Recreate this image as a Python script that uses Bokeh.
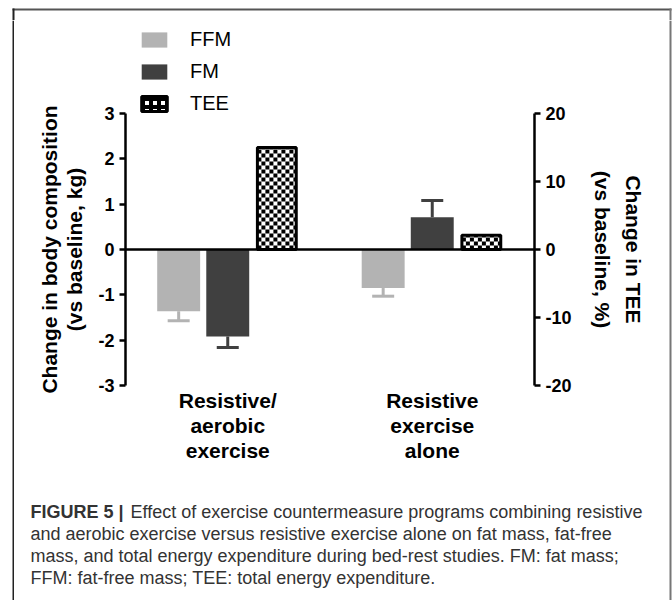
import math
from bokeh.plotting import figure
from bokeh.models import (ColumnDataSource, FactorRange, Range1d, LinearAxis, FixedTicker,
                          Span, Whisker, TeeHead, Legend, LegendItem, Label)
from bokeh.core.properties import value
from bokeh.transform import dodge
from bokeh.layouts import column, row
from bokeh.embed import file_html
from bokeh.resources import INLINE

# ---------------- data ----------------
groups = ["Resistive/\naerobic\nexercise", "Resistive\nexercise\nalone"]
series = ["FFM", "FM", "TEE"]
ffm = [-1.36, -0.85]          # kg
ffm_sem = [0.21, 0.18]
fm = [-1.92, 0.71]            # kg
fm_sem = [0.24, 0.37]
tee = [15.0, 2.1]             # %
left_ticks = [-3, -2, -1, 0, 1, 2, 3]
right_ticks = [-20, -10, 0, 10, 20]
caption_bold = "FIGURE 5 |"
caption_lines = [
    "Effect of exercise countermeasure programs combining resistive",
    "and aerobic exercise versus resistive exercise alone on fat mass, fat-free",
    "mass, and total energy expenditure during bed-rest studies. FM: fat mass;",
    "FFM: fat-free mass; TEE: total energy expenditure.",
]

FONT = "Liberation Sans"
C_FFM = "#b3b3b3"
C_FM = "#404040"
OFF = [-0.24, 0.0, 0.24]      # dodge of the three series inside a group
BAR_W, TEE_W = 0.21, 0.19

# ---------------- layout geometry (pixels) ----------------
TOP_H = 20
SIDE_L, SIDE_R = 14, 4
W_MAIN = 672 - SIDE_L - SIDE_R
FR_LEFT, FR_RIGHT = 125, 534
AX_TOP, ZERO = 113, 249
H_A = 2 * (ZERO - TOP_H)
H_B = 600 - TOP_H - H_A
ext = (ZERO - TOP_H) / (ZERO - AX_TOP)
L_LIM, R_LIM = max(left_ticks), max(right_ticks)


def no_align(f):
    try:
        f.frame_align = False
    except Exception:
        pass


def blank(width, height):
    f = figure(width=width, height=height, x_range=Range1d(0, width), y_range=Range1d(height, 0),
               x_axis_type=None, y_axis_type=None, output_backend="svg", toolbar_location=None,
               min_border=0, min_border_left=0, min_border_right=0,
               min_border_top=0, min_border_bottom=0)
    f.outline_line_color = None
    f.background_fill_color = "white"
    f.border_fill_color = "white"
    no_align(f)
    return f


# ---------------- chart figure ----------------
p = figure(width=W_MAIN, height=H_A,
           x_range=FactorRange(factors=groups, range_padding=0),
           y_range=Range1d(-L_LIM * ext, L_LIM * ext),
           output_backend="svg", toolbar_location=None,
           min_border_left=FR_LEFT - SIDE_L, min_border_right=SIDE_L + W_MAIN - FR_RIGHT,
           min_border_top=0, min_border_bottom=0)
no_align(p)
p.extra_y_ranges = {"tee": Range1d(-R_LIM * ext, R_LIM * ext)}
p.outline_line_color = None
p.xgrid.grid_line_color = None
p.ygrid.grid_line_color = None
p.background_fill_color = "white"
p.border_fill_color = "white"
p.xaxis.visible = False

la = p.left[0]
la.ticker = FixedTicker(ticks=left_ticks)
la.bounds = (min(left_ticks), max(left_ticks))
la.major_label_overrides = {t: str(t) for t in left_ticks}
la.axis_label = "Change in body composition\n(vs baseline, kg)"

ra = LinearAxis(y_range_name="tee", ticker=FixedTicker(ticks=right_ticks),
                bounds=(min(right_ticks), max(right_ticks)),
                axis_label="Change in TEE\n(vs baseline, %)")
ra.major_label_overrides = {t: str(t) for t in right_ticks}
p.add_layout(ra, "right")

for ax, standoff, lh in ((la, 9, 1.1), (ra, 16, 1.35)):
    ax.axis_line_width = 2.5
    ax.axis_line_color = "black"
    ax.major_tick_line_width = 2.5
    ax.major_tick_line_color = "black"
    ax.major_tick_out = 6
    ax.major_tick_in = 0
    ax.minor_tick_line_color = None
    ax.major_label_text_font = FONT
    ax.major_label_text_font_style = "bold"
    ax.major_label_text_font_size = "18px"
    ax.major_label_text_color = "black"
    ax.major_label_standoff = 5
    ax.axis_label_text_font = FONT
    ax.axis_label_text_font_style = "bold"
    ax.axis_label_text_font_size = "21px"
    ax.axis_label_text_line_height = lh
    ax.axis_label_text_color = "black"
    ax.axis_label_standoff = standoff

src = ColumnDataSource(dict(grp=groups, ffm=ffm, fm=fm, tee=tee,
                            lab_y=[min(left_ticks)] * len(groups)))
r_ffm = p.vbar(x=dodge("grp", OFF[0], range=p.x_range), top="ffm", bottom=0, width=BAR_W,
               source=src, fill_color=C_FFM, line_color=None)
r_fm = p.vbar(x=dodge("grp", OFF[1], range=p.x_range), top="fm", bottom=0, width=BAR_W,
              source=src, fill_color=C_FM, line_color=None)

# legend swatch for TEE: zero-height bars (hidden on the zero line) carrying the box style
r_tee_box = p.vbar(x=dodge("grp", OFF[2], range=p.x_range), top=0, bottom=0, width=TEE_W,
                   source=src, y_range_name="tee", fill_color="white",
                   line_color="black", line_width=3)
r_tee_hatch = p.vbar(x=dodge("grp", OFF[2], range=p.x_range), top=0, bottom=0, width=TEE_W,
                     source=src, y_range_name="tee", fill_color=None, line_color=None,
                     hatch_pattern="cross", hatch_color="black", hatch_scale=8,
                     hatch_weight=4)

p.vbar(x=dodge("grp", OFF[2], range=p.x_range), top="tee", bottom=0, width=TEE_W,
       source=src, y_range_name="tee", fill_color="white", line_color=None)

# checkerboard fill of the TEE bars (4 px cells, derived from the bar values)
cell = 4.0
cx = cell / ((FR_RIGHT - FR_LEFT) / len(groups))
cy = cell / ((ZERO - AX_TOP) / R_LIM)
ql, qr, qb, qt = [], [], [], []
for i, v in enumerate(tee):
    x0 = i + 0.5 + OFF[2] - TEE_W / 2
    x1 = x0 + TEE_W
    for j in range(math.ceil(TEE_W / cx)):
        for k in range(math.ceil(abs(v) / cy)):
            if (j + k) % 2 == 0:
                ql.append(x0 + j * cx)
                qr.append(min(x0 + (j + 1) * cx, x1))
                y0 = math.copysign(k * cy, v)
                y1 = math.copysign(min((k + 1) * cy, abs(v)), v)
                qb.append(min(y0, y1))
                qt.append(max(y0, y1))
p.quad(left=ql, right=qr, bottom=qb, top=qt, y_range_name="tee",
       fill_color="black", line_color=None)
p.vbar(x=dodge("grp", OFF[2], range=p.x_range), top="tee", bottom=0, width=TEE_W,
       source=src, y_range_name="tee", fill_color=None, line_color="black", line_width=3)

# category labels under the axis bottom
p.text(x="grp", y="lab_y", text="grp", source=src, y_offset=3,
       text_font=value(FONT), text_font_style="bold", text_font_size="21px",
       text_color="black", text_align="center", text_baseline="top",
       text_line_height=1.1)


def add_err(means, sems, off, color):
    for sign in (1, -1):
        g, lo, up = [], [], []
        for gi, m, s in zip(groups, means, sems):
            if (m >= 0) == (sign > 0):
                g.append(gi)
                tip = m + sign * s
                lo.append(min(m, tip))
                up.append(max(m, tip))
        if not g:
            continue
        es = ColumnDataSource(dict(grp=g, lo=lo, up=up))
        head = TeeHead(size=22, line_color=color, line_width=3)
        w = Whisker(base=dodge("grp", off, range=p.x_range), lower="lo", upper="up",
                    source=es, line_color=color, line_width=3, level="underlay",
                    upper_head=head if sign > 0 else None,
                    lower_head=head if sign < 0 else None)
        p.add_layout(w)


add_err(ffm, ffm_sem, OFF[0], C_FFM)
add_err(fm, fm_sem, OFF[1], C_FM)

p.add_layout(Span(location=0, dimension="width", line_color="black", line_width=2.5))

legend = Legend(items=[LegendItem(label=series[0], renderers=[r_ffm]),
                       LegendItem(label=series[1], renderers=[r_fm]),
                       LegendItem(label=series[2], renderers=[r_tee_box, r_tee_hatch])],
                location=(13, H_A - 95), orientation="vertical",
                glyph_width=32, glyph_height=19, label_height=19,
                label_standoff=20, spacing=9, padding=0, margin=0,
                border_line_color=None, background_fill_alpha=0,
                label_text_font=FONT, label_text_font_size="20px",
                label_text_color="black")
p.add_layout(legend, "center")

# ---------------- caption figure ----------------
b = blank(W_MAIN, H_B)
cap_col = "#333333"
base0 = 511.5 - (TOP_H + H_A)
b.add_layout(Label(x=16, y=base0, text=caption_bold, text_font=FONT, text_font_style="bold",
                   text_font_size="18px", text_color=cap_col, text_baseline="alphabetic"))
b.add_layout(Label(x=116, y=base0, text=caption_lines[0], text_font=FONT,
                   text_font_size="18px", text_color=cap_col, text_baseline="alphabetic"))
for i, line in enumerate(caption_lines[1:]):
    b.add_layout(Label(x=16, y=base0 + 22 * (i + 1), text=line, text_font=FONT,
                       text_font_size="18px", text_color=cap_col, text_baseline="alphabetic"))

# ---------------- outer border strips ----------------
t = blank(672, TOP_H)
t.quad(left=[12], right=[671], top=[8], bottom=[10], fill_color="#555555", line_color=None)
t.quad(left=[12], right=[14], top=[8], bottom=[TOP_H], fill_color="#222222", line_color=None)
t.quad(left=[669], right=[671], top=[8], bottom=[TOP_H], fill_color="#777777", line_color=None)
lft = blank(SIDE_L, H_A + H_B)
lft.quad(left=[12], right=[14], top=[0], bottom=[H_A + H_B], fill_color="#222222", line_color=None)
rgt = blank(SIDE_R, H_A + H_B)
rgt.quad(left=[1], right=[3], top=[0], bottom=[H_A + H_B], fill_color="#777777", line_color=None)

layout = column(t, row(lft, column(p, b), rgt))
open("out.html", "w").write(file_html(layout, INLINE))
